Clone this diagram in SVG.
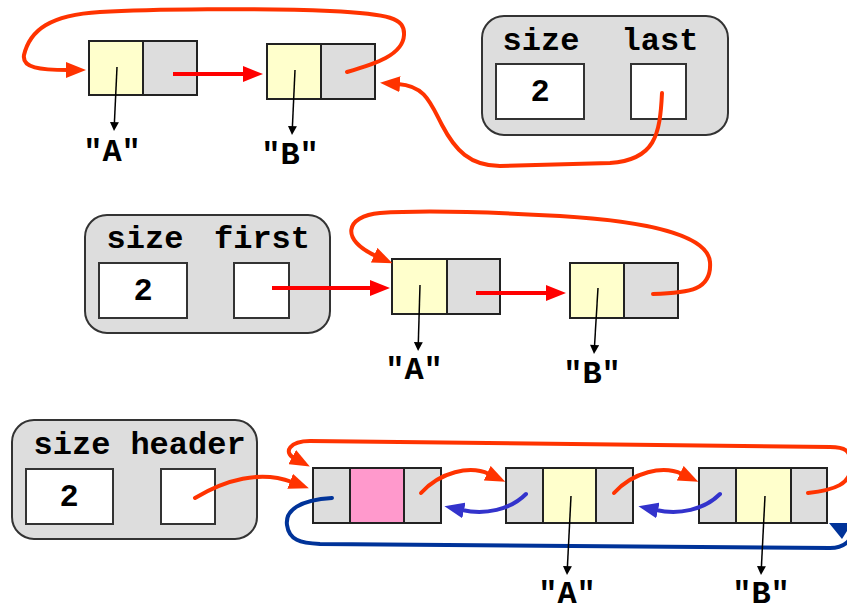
<svg xmlns="http://www.w3.org/2000/svg" width="847" height="612" viewBox="0 0 847 612">
  <style>
    .yel { fill: #ffffcc; stroke: #222; stroke-width: 2; }
    .gry { fill: #dddddd; stroke: #222; stroke-width: 2; }
    .pnk { fill: #ff99cc; stroke: #222; stroke-width: 2; }
    .hdr { fill: #dddddd; stroke: #333; stroke-width: 2; }
    .fld { fill: #ffffff; stroke: #333; stroke-width: 2; }
    .txt { font-family: "Liberation Mono", "Courier New", monospace; font-weight: bold; font-size: 32px; fill: #000; text-anchor: middle; }
    .red { fill: none; stroke: #ff0000; stroke-width: 4; marker-end: url(#arRed); }
    .org { fill: none; stroke: #ff3300; stroke-width: 4; stroke-linecap: round; }
    .orgA { marker-end: url(#arOrg); }
    .blu { fill: none; stroke: #3333cc; stroke-width: 4; stroke-linecap: round; marker-end: url(#arBlu); }
    .dblu { fill: none; stroke: #003399; stroke-width: 4; stroke-linecap: round; }
    .dat { fill: none; stroke: #000; stroke-width: 1.5; marker-end: url(#arBlk); }
  </style>
  <defs>
    <marker id="arRed" viewBox="0 0 20 16" refX="2" refY="8" markerWidth="20" markerHeight="16" markerUnits="userSpaceOnUse" orient="auto">
      <path d="M0,0 L20,8 L0,16 z" fill="#ff0000"/>
    </marker>
    <marker id="arOrg" viewBox="0 0 20 16" refX="2" refY="8" markerWidth="20" markerHeight="16" markerUnits="userSpaceOnUse" orient="auto">
      <path d="M0,0 L20,8 L0,16 z" fill="#ff3300"/>
    </marker>
    <marker id="arBlu" viewBox="0 0 20 16" refX="2" refY="8" markerWidth="20" markerHeight="16" markerUnits="userSpaceOnUse" orient="auto">
      <path d="M0,0 L20,8 L0,16 z" fill="#3333cc"/>
    </marker>
    <marker id="arBlk" viewBox="0 0 10 10" refX="1" refY="5" markerWidth="10" markerHeight="9" markerUnits="userSpaceOnUse" orient="auto">
      <path d="M0,0 L10,5 L0,10 z" fill="#000"/>
    </marker>
  </defs>

  <!-- Singly linked list with a "last" reference -->
  <g id="top-node-a">
    <rect class="yel" x="89" y="41" width="54" height="54"/>
    <rect class="gry" x="143" y="41" width="54" height="54"/>
  </g>
  <g id="top-node-b">
    <rect class="yel" x="267" y="44" width="54" height="55"/>
    <rect class="gry" x="321" y="44" width="54" height="55"/>
  </g>
  <g id="top-label-a"><text class="txt" x="112" y="161">"A"</text></g>
  <g id="top-label-b"><text class="txt" x="290" y="164">"B"</text></g>
  <g id="top-header">
    <rect class="hdr" x="482" y="16" width="246" height="119" rx="22"/>
    <text class="txt" x="541" y="50">size</text>
    <text class="txt" x="660" y="50">last</text>
    <rect class="fld" x="496" y="64" width="88" height="55"/>
    <rect class="fld" x="631" y="64" width="55" height="55"/>
    <text class="txt" x="540" y="101">2</text>
  </g>

  <!-- Singly linked list with a "first" reference -->
  <g id="mid-header">
    <rect class="hdr" x="85" y="215" width="245" height="118" rx="22"/>
    <text class="txt" x="145" y="248">size</text>
    <text class="txt" x="262" y="248">first</text>
    <rect class="fld" x="99" y="263" width="88" height="55"/>
    <rect class="fld" x="234" y="263" width="55" height="55"/>
    <text class="txt" x="143" y="300">2</text>
  </g>
  <g id="mid-node-a">
    <rect class="yel" x="392" y="259" width="55" height="55"/>
    <rect class="gry" x="447" y="259" width="53" height="55"/>
  </g>
  <g id="mid-node-b">
    <rect class="yel" x="570" y="263" width="54" height="55"/>
    <rect class="gry" x="624" y="263" width="54" height="55"/>
  </g>
  <g id="mid-label-a"><text class="txt" x="414" y="379">"A"</text></g>
  <g id="mid-label-b"><text class="txt" x="592" y="383">"B"</text></g>

  <!-- Doubly linked list with a header sentinel -->
  <g id="bot-header">
    <rect class="hdr" x="12" y="420" width="245" height="119" rx="22"/>
    <text class="txt" x="72" y="454">size</text>
    <text class="txt" x="188" y="454">header</text>
    <rect class="fld" x="26" y="469" width="87" height="55"/>
    <rect class="fld" x="161" y="469" width="54" height="55"/>
    <text class="txt" x="69" y="506">2</text>
  </g>
  <g id="bot-sentinel">
    <rect class="gry" x="313" y="468" width="37" height="55"/>
    <rect class="pnk" x="350" y="468" width="54" height="55"/>
    <rect class="gry" x="404" y="468" width="37" height="55"/>
  </g>
  <g id="bot-node-a">
    <rect class="gry" x="506" y="468" width="37" height="55"/>
    <rect class="yel" x="543" y="468" width="53" height="55"/>
    <rect class="gry" x="596" y="468" width="37" height="55"/>
  </g>
  <g id="bot-node-b">
    <rect class="gry" x="699" y="468" width="37" height="55"/>
    <rect class="yel" x="736" y="468" width="55" height="55"/>
    <rect class="gry" x="791" y="468" width="36" height="55"/>
  </g>
  <g id="bot-label-a"><text class="txt" x="567" y="603">"A"</text></g>
  <g id="bot-label-b"><text class="txt" x="761" y="603">"B"</text></g>

  <g id="connectors">
    <!-- top -->
    <path class="red" d="M173,74 L245,74"/>
    <path class="org orgA" d="M347,72 C375,64 403,55 404,35 C405,18 390,14 330,11 C260,8 150,9 100,12 C50,15 30,30 24,55 C22,68 40,70 68,70"/>
    <path class="org orgA" d="M662,93 C660,135 655,160 610,163 L500,166 C470,166 455,150 442,125 C430,102 425,86 398,84"/>
    <path class="dat" d="M117,67 L114.4,123"/>
    <path class="dat" d="M295,70 L292.4,127"/>

    <!-- middle -->
    <path class="red" d="M272,288 L372,288"/>
    <path class="red" d="M476,293 L548,293"/>
    <path class="org orgA" d="M653,294 C690,293 712,290 710,262 C708,238 660,222 560,216 C490,212 420,210 380,213 C345,216 340,240 376,256"/>
    <path class="dat" d="M420,285 L418.3,343"/>
    <path class="dat" d="M598,288 L594.5,346"/>

    <!-- bottom -->
    <path class="org orgA" d="M195,498 C225,480 260,470 292,482"/>
    <path class="org orgA" d="M421,493 C440,472 470,465 489,474"/>
    <path class="org orgA" d="M614,493 C633,472 663,465 682,474"/>
    <path class="blu" d="M526,494 C510,510 485,515 462,510"/>
    <path class="blu" d="M720,494 C704,510 679,515 656,510"/>
    <path class="org orgA" d="M808,493 C835,490 851,484 851,466 C851,450 845,447 830,447 L310,441 C290,441 283,452 294,458"/>
    <path class="dblu" d="M332,498 C300,500 285,510 287,525 C289,540 300,543 320,544 L830,548 C845,548 852,540 852,530"/>
    <polygon points="829,523 852,523 842,539" fill="#003399"/>
    <path class="dat" d="M571,496 L567.4,567"/>
    <path class="dat" d="M765,496 L761.4,567"/>
  </g>
</svg>
